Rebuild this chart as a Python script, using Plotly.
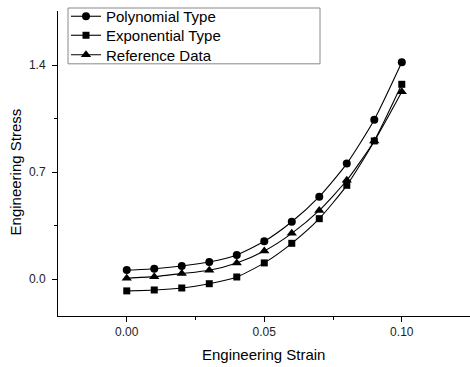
import plotly.graph_objects as go

strain = [0.00, 0.01, 0.02, 0.03, 0.04, 0.05, 0.06, 0.07, 0.08, 0.09, 0.10]
polynomial = [0.06, 0.069, 0.087, 0.113, 0.159, 0.248, 0.376, 0.54, 0.756, 1.043, 1.418]
exponential = [-0.076, -0.07, -0.057, -0.029, 0.015, 0.107, 0.235, 0.396, 0.614, 0.904, 1.274]
reference = [0.007, 0.017, 0.037, 0.059, 0.107, 0.185, 0.30, 0.45, 0.647, 0.904, 1.226]

series = [
    ("Polynomial Type", polynomial, "circle", 8),
    ("Exponential Type", exponential, "square", 7),
    ("Reference Data", reference, "triangle-up", 9),
]

L, R, T, B, W, H = 58, 0, 10, 51, 470, 367
pw, ph = W - L - R, H - T - B


def px_x(v):
    return (v - L) / pw


def px_y(v):
    return (H - B - v) / ph


font = "Liberation Sans, Arial, sans-serif"
legend_ids = ["legend", "legend2", "legend3"]
legend_centers = [16, 35.5, 55]

fig = go.Figure()
for (name, vals, sym, size), lid in zip(series, legend_ids):
    fig.add_trace(go.Scatter(
        x=strain, y=vals, name=name, mode="lines+markers",
        line=dict(color="black", width=1.1, shape="spline", smoothing=0.6),
        marker=dict(symbol=sym, size=size, color="black"),
        legend=lid,
    ))

legend_layout = {}
for lid, cy in zip(legend_ids, legend_centers):
    legend_layout[lid] = dict(
        x=px_x(66), y=px_y(cy), xanchor="left", yanchor="middle",
        bgcolor="rgba(0,0,0,0)", borderwidth=0,
        font=dict(family=font, size=15, color="black"),
        itemwidth=30,
    )

fig.update_layout(
    width=W, height=H,
    margin=dict(l=L, r=R, t=T, b=B),
    paper_bgcolor="white", plot_bgcolor="white",
    font=dict(family=font, size=12, color="black"),
    showlegend=True,
    **legend_layout,
    xaxis=dict(
        range=[-0.025, 0.1248], showgrid=False, zeroline=False,
        showline=True, linecolor="black", linewidth=1,
        ticks="outside", ticklen=5, tickcolor="black",
        tickvals=[0.0, 0.05, 0.10], ticktext=["0.00", "0.05", "0.10"],
        tickfont=dict(family=font, size=12, color="#222222"),
        ticklabelstandoff=0,
        minor=dict(ticks="outside", ticklen=3, tickcolor="black", tickvals=[0.025, 0.075]),
    ),
    yaxis=dict(
        range=[-0.24, 1.753], showgrid=False, zeroline=False,
        showline=True, linecolor="black", linewidth=1,
        ticks="outside", ticklen=5, tickcolor="black",
        tickvals=[0.0, 0.7, 1.4], ticktext=["0.0", "0.7", "1.4"],
        tickfont=dict(family=font, size=12, color="#222222"),
        ticklabelstandoff=4,
        minor=dict(ticks="outside", ticklen=3, tickcolor="black", tickvals=[0.35, 1.05]),
    ),
    shapes=[
        dict(type="rect", xref="paper", yref="paper",
             x0=px_x(68), x1=px_x(320), y0=px_y(63), y1=px_y(7),
             line=dict(color="#888888", width=1), fillcolor="white", layer="below"),
    ],
    annotations=[
        dict(text="Engineering Strain", x=px_x(263.5), y=px_y(355), xref="paper", yref="paper",
             xanchor="center", yanchor="middle",
             showarrow=False, font=dict(family=font, size=15, color="black")),
        dict(text="Engineering Stress", x=px_x(15), y=px_y(172), xref="paper", yref="paper",
             xanchor="center", yanchor="middle",
             showarrow=False, textangle=-90, font=dict(family=font, size=15, color="black")),
    ],
)

fig.write_html("out.html")
